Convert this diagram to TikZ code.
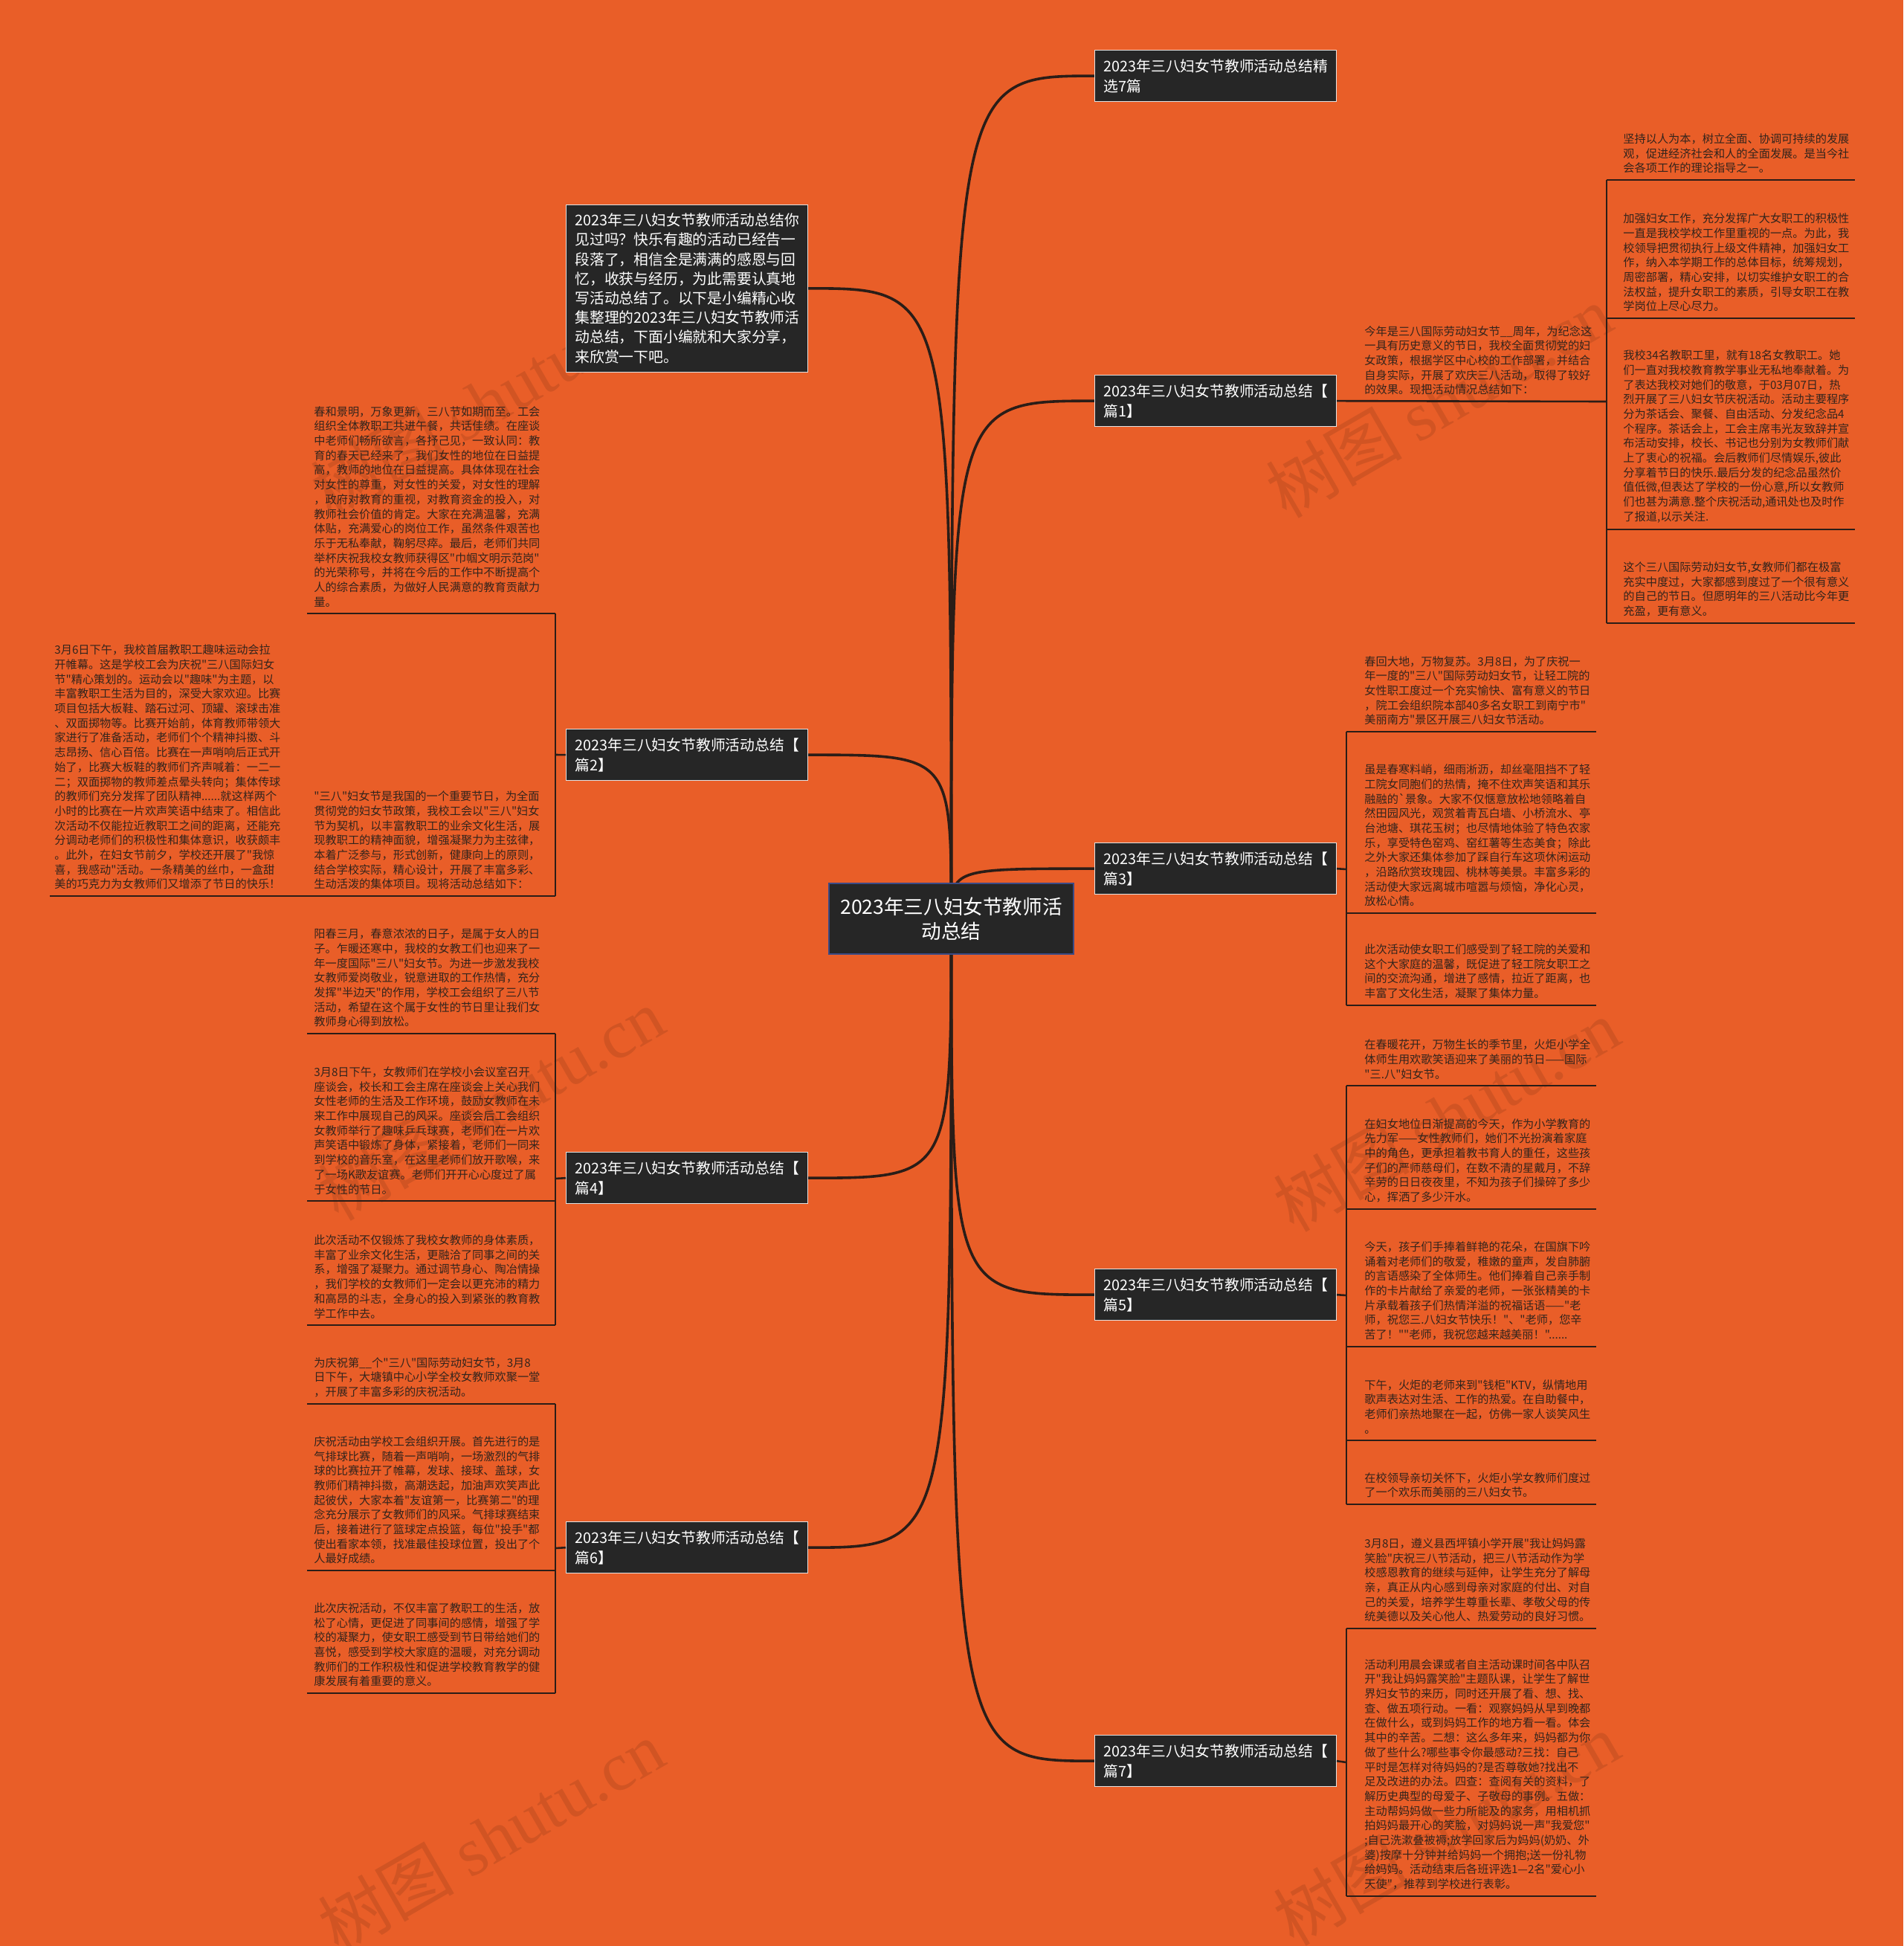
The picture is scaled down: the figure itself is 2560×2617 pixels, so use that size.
\documentclass[tikz,border=0pt]{standalone}
\usepackage{fontspec}
\setmainfont{Noto Sans CJK SC}[Ligatures=TeXOff]
\newfontfamily\marklatin{Liberation Serif}
\usetikzlibrary{backgrounds}
\definecolor{bgorange}{HTML}{E95E28}
\definecolor{topicfill}{HTML}{262626}
\definecolor{topicedge}{HTML}{E2E2E2}
\definecolor{rootedge}{HTML}{3B4A85}
\definecolor{stem}{HTML}{2B1D17}
\definecolor{leaftext}{HTML}{33241C}

\begin{document}
\begin{tikzpicture}[x=0.5pt,y=-0.5pt,
 topic/.style={fill=topicfill,draw=topicedge,line width=0.5pt,text=white,
   anchor=north west,align=left,text width=150.5pt,inner xsep=6pt,
   inner ysep=6pt,font=\fontsize{9.9}{13.4}\selectfont},
 root/.style={fill=topicfill,draw=rootedge,line width=0.8pt,text=white,
   align=center,text width=152pt,minimum width=164.5pt,minimum height=47.5pt,
   font=\fontsize{13.3}{16.7}\selectfont},
 % Leaf texts sit on their own underline: the south edge is the rule.
 leaf/.style={text=leaftext,anchor=south west,align=left,inner xsep=0pt,
   inner ysep=4.2pt,font=\fontsize{7.6}{9.85}\selectfont},
 branch/.style={draw=stem,line width=1.8pt},
 twig/.style={draw=stem,line width=1.3pt},
 stamp/.style={text=black,opacity=0.1,rotate=30,
   font=\fontsize{46}{46}\selectfont}]
\useasboundingbox (0,0) rectangle (2560,2617);

% Root and first-level topics (full-size pixel grid, y downwards).
\node[root] (c) at (1279.5,1235.5) {2023年三八妇女节教师活\\动总结};
\node[topic] (t0) at (1472,67) {2023年三八妇女节教师活动总结精\\选7篇};
\node[topic] (t1) at (1472,504) {2023年三八妇女节教师活动总结【\\篇1】};
\node[topic] (t3) at (1472,1133) {2023年三八妇女节教师活动总结【\\篇3】};
\node[topic] (t5) at (1472,1706) {2023年三八妇女节教师活动总结【\\篇5】};
\node[topic] (t7) at (1472,2333) {2023年三八妇女节教师活动总结【\\篇7】};
\node[topic,inner ysep=5.7pt,font=\fontsize{9.9}{13.1}\selectfont] (ti) at (761,275)
 {2023年三八妇女节教师活动总结你\\见过吗？快乐有趣的活动已经告一\\段落了，相信全是满满的感恩与回\\忆，收获与经历，为此需要认真地\\写活动总结了。以下是小编精心收\\集整理的2023年三八妇女节教师活\\动总结，下面小编就和大家分享，\\来欣赏一下吧。};
\node[topic] (t2) at (761,980) {2023年三八妇女节教师活动总结【\\篇2】};
\node[topic] (t4) at (761,1549) {2023年三八妇女节教师活动总结【\\篇4】};
\node[topic] (t6) at (761,2046) {2023年三八妇女节教师活动总结【\\篇6】};

% Bracket joints of the leaf columns.
\coordinate (k1) at (2161,540);
\coordinate (k3) at (1811,1169);
\coordinate (k5) at (1811,1742);
\coordinate (k7) at (1811,2370);
\coordinate (k2) at (747,1015);
\coordinate (k2c) at (413,1205);
\coordinate (k4) at (747,1585);
\coordinate (k6) at (747,2082);

% --- 篇1
\node[leaf] (p1) at (1835,540) {今年是三八国际劳动妇女节\_\_周年，为纪念这\\一具有历史意义的节日，我校全面贯彻党的妇\\女政策，根据学区中心校的工作部署，并结合\\自身实际，开展了欢庆三八活动，取得了较好\\的效果。现把活动情况总结如下：};
\node[leaf] (p1a) at (2183,242) {坚持以人为本，树立全面、协调可持续的发展\\观，促进经济社会和人的全面发展。是当今社\\会各项工作的理论指导之一。};
\node[leaf] (p1b) at (2183,428) {加强妇女工作，充分发挥广大女职工的积极性\\一直是我校学校工作里重视的一点。为此，我\\校领导把贯彻执行上级文件精神，加强妇女工\\作，纳入本学期工作的总体目标，统筹规划，\\周密部署，精心安排，以切实维护女职工的合\\法权益，提升女职工的素质，引导女职工在教\\学岗位上尽心尽力。};
\node[leaf] (p1c) at (2183,712) {我校34名教职工里，就有18名女教职工。她\\们一直对我校教育教学事业无私地奉献着。为\\了表达我校对她们的敬意，于03月07日，热\\烈开展了三八妇女节庆祝活动。活动主要程序\\分为茶话会、聚餐、自由活动、分发纪念品4\\个程序。茶话会上，工会主席韦光友致辞并宣\\布活动安排，校长、书记也分别为女教师们献\\上了衷心的祝福。会后教师们尽情娱乐,彼此\\分享着节日的快乐.最后分发的纪念品虽然价\\值低微,但表达了学校的一份心意,所以女教师\\们也甚为满意.整个庆祝活动,通讯处也及时作\\了报道,以示关注.};
\node[leaf] (p1d) at (2183,838) {这个三八国际劳动妇女节,女教师们都在极富\\充实中度过，大家都感到度过了一个很有意义\\的自己的节日。但愿明年的三八活动比今年更\\充盈，更有意义。};
\draw[twig] (t1.east) -- (k1);
\draw[twig] (p1a.south -| k1) -- (p1d.south -| k1);
\draw[twig] (p1a.south -| k1) -- ++(334,0);
\draw[twig] (p1b.south -| k1) -- ++(334,0);
\draw[twig] (p1c.south -| k1) -- ++(334,0);
\draw[twig] (p1d.south -| k1) -- ++(334,0);

% --- 篇3
\node[leaf] (p3a) at (1835,984) {春回大地，万物复苏。3月8日，为了庆祝一\\年一度的"三八"国际劳动妇女节，让轻工院的\\女性职工度过一个充实愉快、富有意义的节日\\，院工会组织院本部40多名女职工到南宁市"\\美丽南方"景区开展三八妇女节活动。};
\node[leaf] (p3b) at (1835,1228) {虽是春寒料峭，细雨淅沥，却丝毫阻挡不了轻\\工院女同胞们的热情，掩不住欢声笑语和其乐\\融融的`景象。大家不仅惬意放松地领略着自\\然田园风光，观赏着青瓦白墙、小桥流水、亭\\台池塘、琪花玉树；也尽情地体验了特色农家\\乐，享受特色窑鸡、窑红薯等生态美食；除此\\之外大家还集体参加了踩自行车这项休闲运动\\，沿路欣赏玫瑰园、桃林等美景。丰富多彩的\\活动使大家远离城市喧嚣与烦恼，净化心灵，\\放松心情。};
\node[leaf] (p3c) at (1835,1352) {此次活动使女职工们感受到了轻工院的关爱和\\这个大家庭的温馨，既促进了轻工院女职工之\\间的交流沟通，增进了感情，拉近了距离，也\\丰富了文化生活，凝聚了集体力量。};
\draw[twig] (t3.east) -- (k3);
\draw[twig] (p3a.south -| k3) -- (p3c.south -| k3);
\draw[twig] (p3a.south -| k3) -- ++(336,0);
\draw[twig] (p3b.south -| k3) -- ++(336,0);
\draw[twig] (p3c.south -| k3) -- ++(336,0);

% --- 篇5
\node[leaf] (p5a) at (1835,1460) {在春暖花开，万物生长的季节里，火炬小学全\\体师生用欢歌笑语迎来了美丽的节日——国际\\"三.八"妇女节。};
\node[leaf] (p5b) at (1835,1626) {在妇女地位日渐提高的今天，作为小学教育的\\先力军——女性教师们，她们不光扮演着家庭\\中的角色，更承担着教书育人的重任，这些孩\\子们的严师慈母们，在数不清的星戴月，不辞\\辛劳的日日夜夜里，不知为孩子们操碎了多少\\心，挥洒了多少汗水。};
\node[leaf] (p5c) at (1835,1811) {今天，孩子们手捧着鲜艳的花朵，在国旗下吟\\诵着对老师们的敬爱，稚嫩的童声，发自肺腑\\的言语感染了全体师生。他们捧着自己亲手制\\作的卡片献给了亲爱的老师，一张张精美的卡\\片承载着孩子们热情洋溢的祝福话语——"老\\师，祝您三.八妇女节快乐！"、"老师，您辛\\苦了！""老师，我祝您越来越美丽！"......};
\node[leaf] (p5d) at (1835,1937) {下午，火炬的老师来到"钱柜"KTV，纵情地用\\歌声表达对生活、工作的热爱。在自助餐中，\\老师们亲热地聚在一起，仿佛一家人谈笑风生\\。};
\node[leaf] (p5e) at (1835,2023) {在校领导亲切关怀下，火炬小学女教师们度过\\了一个欢乐而美丽的三八妇女节。};
\draw[twig] (t5.east) -- (k5);
\draw[twig] (p5a.south -| k5) -- (p5e.south -| k5);
\draw[twig] (p5a.south -| k5) -- ++(336,0);
\draw[twig] (p5b.south -| k5) -- ++(336,0);
\draw[twig] (p5c.south -| k5) -- ++(336,0);
\draw[twig] (p5d.south -| k5) -- ++(336,0);
\draw[twig] (p5e.south -| k5) -- ++(336,0);

% --- 篇7
\node[leaf] (p7a) at (1835,2190) {3月8日，遵义县西坪镇小学开展"我让妈妈露\\笑脸"庆祝三八节活动，把三八节活动作为学\\校感恩教育的继续与延伸，让学生充分了解母\\亲，真正从内心感到母亲对家庭的付出、对自\\己的关爱，培养学生尊重长辈、孝敬父母的传\\统美德以及关心他人、热爱劳动的良好习惯。};
\node[leaf] (p7b) at (1835,2550) {活动利用晨会课或者自主活动课时间各中队召\\开"我让妈妈露笑脸"主题队课，让学生了解世\\界妇女节的来历，同时还开展了看、想、找、\\查、做五项行动。一看：观察妈妈从早到晚都\\在做什么，或到妈妈工作的地方看一看。体会\\其中的辛苦。二想：这么多年来，妈妈都为你\\做了些什么?哪些事令你最感动?三找：自己\\平时是怎样对待妈妈的?是否尊敬她?找出不\\足及改进的办法。四查：查阅有关的资料，了\\解历史典型的母爱子、子敬母的事例。五做：\\主动帮妈妈做一些力所能及的家务，用相机抓\\拍妈妈最开心的笑脸，对妈妈说一声"我爱您"\\;自己洗漱叠被褥;放学回家后为妈妈(奶奶、外\\婆)按摩十分钟并给妈妈一个拥抱;送一份礼物\\给妈妈。活动结束后各班评选1—2名"爱心小\\天使"，推荐到学校进行表彰。};
\draw[twig] (t7.east) -- (k7);
\draw[twig] (p7a.south -| k7) -- (p7b.south -| k7);
\draw[twig] (p7a.south -| k7) -- ++(336,0);
\draw[twig] (p7b.south -| k7) -- ++(336,0);

% --- 篇2 (left side, rules run leftwards)
\node[leaf] (p2a) at (422,825) {春和景明，万象更新，三八节如期而至。工会\\组织全体教职工共进午餐，共话佳绩。在座谈\\中老师们畅所欲言，各抒己见，一致认同：教\\育的春天已经来了，我们女性的地位在日益提\\高，教师的地位在日益提高。具体体现在社会\\对女性的尊重，对女性的关爱，对女性的理解\\，政府对教育的重视，对教育资金的投入，对\\教师社会价值的肯定。大家在充满温馨，充满\\体贴，充满爱心的岗位工作，虽然条件艰苦也\\乐于无私奉献，鞠躬尽瘁。最后，老师们共同\\举杯庆祝我校女教师获得区"巾帼文明示范岗"\\的光荣称号，并将在今后的工作中不断提高个\\人的综合素质，为做好人民满意的教育贡献力\\量。};
\node[leaf] (p2b) at (422,1205) {"三八"妇女节是我国的一个重要节日，为全面\\贯彻党的妇女节政策，我校工会以"三八"妇女\\节为契机，以丰富教职工的业余文化生活，展\\现教职工的精神面貌，增强凝聚力为主弦律，\\本着广泛参与，形式创新，健康向上的原则，\\结合学校实际，精心设计，开展了丰富多彩、\\生动活泼的集体项目。现将活动总结如下：};
\node[leaf] (p2c) at (73,1205) {3月6日下午，我校首届教职工趣味运动会拉\\开帷幕。这是学校工会为庆祝"三八国际妇女\\节"精心策划的。运动会以"趣味"为主题，以\\丰富教职工生活为目的，深受大家欢迎。比赛\\项目包括大板鞋、踏石过河、顶罐、滚球击准\\、双面掷物等。比赛开始前，体育教师带领大\\家进行了准备活动，老师们个个精神抖擞、斗\\志昂扬、信心百倍。比赛在一声哨响后正式开\\始了，比赛大板鞋的教师们齐声喊着：一二一\\二；双面掷物的教师差点晕头转向；集体传球\\的教师们充分发挥了团队精神......就这样两个\\小时的比赛在一片欢声笑语中结束了。相信此\\次活动不仅能拉近教职工之间的距离，还能充\\分调动老师们的积极性和集体意识，收获颇丰\\。此外，在妇女节前夕，学校还开展了"我惊\\喜，我感动"活动。一条精美的丝巾，一盒甜\\美的巧克力为女教师们又增添了节日的快乐！};
\draw[twig] (t2.west) -- (k2);
\draw[twig] (p2a.south -| k2) -- (p2b.south -| k2);
\draw[twig] (p2a.south -| k2) -- ++(-334,0);
\draw[twig] (p2b.south -| k2) -- ++(-334,0);
\draw[twig] (p2c.south -| k2c) -- ++(-346,0);

% --- 篇4
\node[leaf] (p4a) at (422,1390) {阳春三月，春意浓浓的日子，是属于女人的日\\子。乍暖还寒中，我校的女教工们也迎来了一\\年一度国际"三八"妇女节。为进一步激发我校\\女教师爱岗敬业，锐意进取的工作热情，充分\\发挥"半边天"的作用，学校工会组织了三八节\\活动，希望在这个属于女性的节日里让我们女\\教师身心得到放松。};
\node[leaf] (p4b) at (422,1615) {3月8日下午，女教师们在学校小会议室召开\\座谈会，校长和工会主席在座谈会上关心我们\\女性老师的生活及工作环境，鼓励女教师在未\\来工作中展现自己的风采。座谈会后工会组织\\女教师举行了趣味乒乓球赛，老师们在一片欢\\声笑语中锻炼了身体，紧接着，老师们一同来\\到学校的音乐室，在这里老师们放开歌喉，来\\了一场K歌友谊赛。老师们开开心心度过了属\\于女性的节日。};
\node[leaf] (p4c) at (422,1782) {此次活动不仅锻炼了我校女教师的身体素质，\\丰富了业余文化生活，更融洽了同事之间的关\\系，增强了凝聚力。通过调节身心、陶冶情操\\，我们学校的女教师们一定会以更充沛的精力\\和高昂的斗志，全身心的投入到紧张的教育教\\学工作中去。};
\draw[twig] (t4.west) -- (k4);
\draw[twig] (p4a.south -| k4) -- (p4c.south -| k4);
\draw[twig] (p4a.south -| k4) -- ++(-334,0);
\draw[twig] (p4b.south -| k4) -- ++(-334,0);
\draw[twig] (p4c.south -| k4) -- ++(-334,0);

% --- 篇6
\node[leaf] (p6a) at (422,1888) {为庆祝第\_\_个"三八"国际劳动妇女节，3月8\\日下午，大塘镇中心小学全校女教师欢聚一堂\\，开展了丰富多彩的庆祝活动。};
\node[leaf] (p6b) at (422,2112) {庆祝活动由学校工会组织开展。首先进行的是\\气排球比赛，随着一声哨响，一场激烈的气排\\球的比赛拉开了帷幕，发球、接球、盖球，女\\教师们精神抖擞，高潮迭起，加油声欢笑声此\\起彼伏，大家本着"友谊第一，比赛第二"的理\\念充分展示了女教师们的风采。气排球赛结束\\后，接着进行了篮球定点投篮，每位"投手"都\\使出看家本领，找准最佳投球位置，投出了个\\人最好成绩。};
\node[leaf] (p6c) at (422,2277) {此次庆祝活动，不仅丰富了教职工的生活，放\\松了心情，更促进了同事间的感情，增强了学\\校的凝聚力，使女职工感受到节日带给她们的\\喜悦，感受到学校大家庭的温暖，对充分调动\\教师们的工作积极性和促进学校教育教学的健\\康发展有着重要的意义。};
\draw[twig] (t6.west) -- (k6);
\draw[twig] (p6a.south -| k6) -- (p6c.south -| k6);
\draw[twig] (p6a.south -| k6) -- ++(-334,0);
\draw[twig] (p6b.south -| k6) -- ++(-334,0);
\draw[twig] (p6c.south -| k6) -- ++(-334,0);

% Page colour, faint watermarks and the root curves all go underneath;
% each curve leaves the root centre upright and turns flat into its topic.
\begin{scope}[on background layer]
\fill[bgorange] (0,0) rectangle (2560,2617);
\node[stamp] (wm1) at (650,540) {树图 {\marklatin shutu.cn}};
\node[stamp] (wm2) at (660,1485) {树图 {\marklatin shutu.cn}};
\node[stamp] (wm3) at (660,2470) {树图 {\marklatin shutu.cn}};
\node[stamp] (wm4) at (1935,540) {树图 {\marklatin shutu.cn}};
\node[stamp] (wm5) at (1945,1500) {树图 {\marklatin shutu.cn}};
\node[stamp] (wm6) at (1945,2460) {树图 {\marklatin shutu.cn}};
\draw[branch] (c.center) .. controls (c.center |- t0.west) .. (t0.west);
\draw[branch] (c.center) .. controls (c.center |- t1.west) .. (t1.west);
\draw[branch] (c.center) .. controls (c.center |- t3.west) .. (t3.west);
\draw[branch] (c.center) .. controls (c.center |- t5.west) .. (t5.west);
\draw[branch] (c.center) .. controls (c.center |- t7.west) .. (t7.west);
\draw[branch] (c.center) .. controls (c.center |- ti.east) .. (ti.east);
\draw[branch] (c.center) .. controls (c.center |- t2.east) .. (t2.east);
\draw[branch] (c.center) .. controls (c.center |- t4.east) .. (t4.east);
\draw[branch] (c.center) .. controls (c.center |- t6.east) .. (t6.east);
\end{scope}
\end{tikzpicture}
\end{document}
